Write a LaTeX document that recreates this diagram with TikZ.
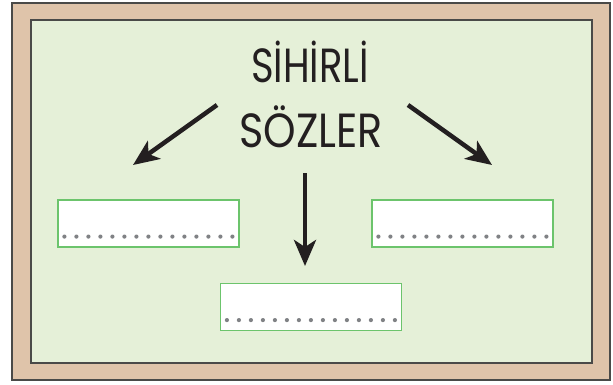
\documentclass[tikz,border=0pt]{standalone}
\usepackage{fontspec}
\setmainfont{Poppins}
\usetikzlibrary{arrows.meta}
\definecolor{framefill}{HTML}{DFC4AA}
\definecolor{framedraw}{HTML}{4A4A48}
\definecolor{boardfill}{HTML}{E5F0D8}
\definecolor{boxgreen}{HTML}{6CC46C}
\definecolor{dotgray}{HTML}{808285}
\definecolor{inkcol}{HTML}{231F20}
\tikzset{
  answerbox/.style={draw=boxgreen, line width=1.2pt, fill=white, minimum width=181pt, minimum height=47pt, inner sep=0pt},
  bigarrow/.style={draw=inkcol, line width=4.5pt, -{Stealth[length=26pt, width=22pt, inset=7pt]}},
  titletext/.style={text=inkcol, font=\fontsize{47}{47}\selectfont, inner sep=0pt, anchor=base}
}
\begin{document}
\begin{tikzpicture}[x=1pt, y=-1pt]
\useasboundingbox (0,0) rectangle (613,385);
\fill[white] (0,0) rectangle (613,385);
\draw[framedraw, line width=1.5pt, fill=framefill] (12,3) rectangle (610,380);
\draw[framedraw, line width=1.5pt, fill=boardfill] (31,20) rectangle (592,363);
\node[titletext] (t1) at (310,83) {\scalebox{0.82}[1.02]{SİHİRLİ}};
\node[titletext] (t2) at (311,148) {\scalebox{0.88}[1.02]{SÖZLER}};
\node[answerbox] (bl) at (148.5,223.5) {};
\node[answerbox] (br) at (462.5,223.5) {};
\node[answerbox] (bm) at (311,307) {};
\foreach \b in {bl,br,bm}{
  \foreach \i in {0,...,14}{
    \fill[dotgray] ([xshift=7+12*\i pt, yshift=11pt]\b.south west) circle (2.1pt);
  }
}
\coordinate (as1) at (217,105);
\coordinate (ae1) at (133,165);
\coordinate (as2) at (408,105);
\coordinate (ae2) at (492,165);
\coordinate (as3) at (305,173);
\coordinate (ae3) at (305,266);
\draw[bigarrow] (as1) -- (ae1);
\draw[bigarrow] (as2) -- (ae2);
\draw[bigarrow] (as3) -- (ae3);
\end{tikzpicture}
\end{document}
